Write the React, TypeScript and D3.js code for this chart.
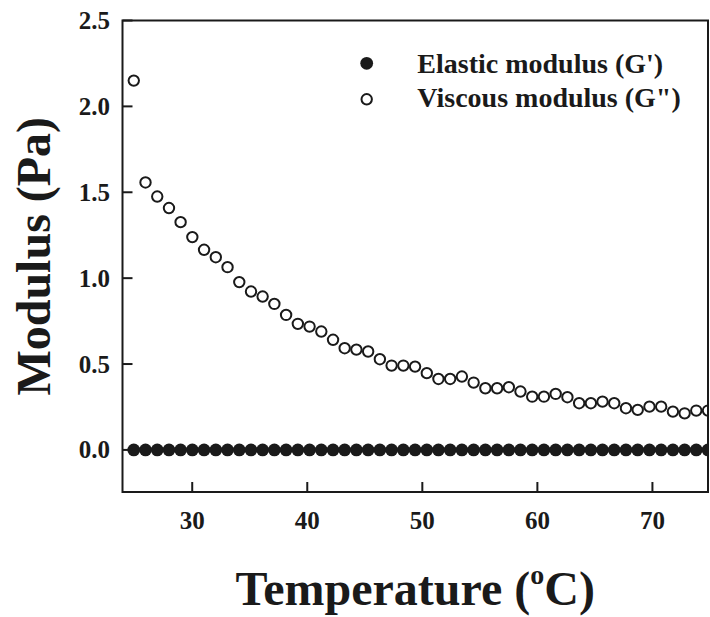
import React from "react";
import * as d3 from "d3";

const temperatures = [
  24.92, 25.94, 26.96, 27.98, 28.99, 30.01, 31.03, 32.05, 33.07, 34.09,
  35.11, 36.12, 37.14, 38.16, 39.18, 40.2, 41.22, 42.24, 43.25, 44.27,
  45.29, 46.31, 47.33, 48.35, 49.37, 50.39, 51.4, 52.42, 53.44, 54.46,
  55.48, 56.5, 57.52, 58.53, 59.55, 60.57, 61.59, 62.61, 63.63, 64.65,
  65.66, 66.68, 67.7, 68.72, 69.74, 70.76, 71.78, 72.8, 73.81, 74.83,
];

const elasticModulus = [
  0, 0, 0, 0, 0, 0, 0, 0, 0, 0,
  0, 0, 0, 0, 0, 0, 0, 0, 0, 0,
  0, 0, 0, 0, 0, 0, 0, 0, 0, 0,
  0, 0, 0, 0, 0, 0, 0, 0, 0, 0,
  0, 0, 0, 0, 0, 0, 0, 0, 0, 0,
];

const viscousModulus = [
  2.15, 1.557, 1.475, 1.408, 1.326, 1.239, 1.165, 1.122, 1.064, 0.977,
  0.922, 0.893, 0.85, 0.786, 0.734, 0.718, 0.689, 0.641, 0.592, 0.584,
  0.573, 0.528, 0.491, 0.491, 0.485, 0.447, 0.413, 0.413, 0.427, 0.392,
  0.359, 0.359, 0.365, 0.34, 0.31, 0.31, 0.326, 0.307, 0.272, 0.272,
  0.281, 0.272, 0.243, 0.233, 0.252, 0.252, 0.223, 0.213, 0.229, 0.229,
];

const xTicks = [30, 40, 50, 60, 70];
const yTicks = [0, 0.5, 1.0, 1.5, 2.0, 2.5];
const legendLabels = ["Elastic modulus (G')", 'Viscous modulus (G")'];

const W = 710;
const H = 617;
const left = 122.5;
const right = 708;
const top = 20.5;
const bottom = 492;
const ink = "#1a1a1a";
const font = "'Liberation Serif', 'Times New Roman', serif";

export default function App() {
  const x = d3.scaleLinear().domain([23.94, 74.83]).range([left, right]);
  const y = d3.scaleLinear().domain([-0.245, 2.5]).range([bottom, top]);
  const fmt = d3.format(".1f");

  return (
    <svg
      width={W}
      height={H}
      style={{ position: "absolute", left: 0, top: 0, background: "#fff" }}
      fontFamily={font}
    >
      <rect x={0} y={0} width={W} height={H} fill="#fff" />
      <defs>
        <clipPath id="plot">
          <rect x={left} y={top} width={right - left} height={bottom - top} />
        </clipPath>
      </defs>

      {/* data */}
      <g clipPath="url(#plot)">
        {temperatures.map((t, i) => (
          <circle key={"e" + i} cx={x(t)} cy={y(elasticModulus[i])} r={6.4} fill={ink} />
        ))}
        {temperatures.map((t, i) => (
          <circle
            key={"v" + i}
            cx={x(t)}
            cy={y(viscousModulus[i])}
            r={5.2}
            fill="#fff"
            stroke={ink}
            strokeWidth={2}
          />
        ))}
      </g>

      {/* frame */}
      <rect
        x={left}
        y={top}
        width={right - left}
        height={bottom - top}
        fill="none"
        stroke={ink}
        strokeWidth={2}
      />

      {/* x ticks */}
      {xTicks.map((t) => (
        <g key={"xt" + t}>
          <line x1={x(t)} x2={x(t)} y1={bottom} y2={bottom - 10} stroke={ink} strokeWidth={2} />
          <text
            x={x(t)}
            y={529}
            textAnchor="middle"
            fontSize={25}
            fontWeight="bold"
            fill={ink}
          >
            {t}
          </text>
        </g>
      ))}

      {/* y ticks */}
      {yTicks.map((t) => (
        <g key={"yt" + t}>
          <line x1={left} x2={left + 10} y1={y(t)} y2={y(t)} stroke={ink} strokeWidth={2} />
          <text
            x={110}
            y={y(t)}
            dy="0.34em"
            textAnchor="end"
            fontSize={25}
            fontWeight="bold"
            fill={ink}
          >
            {fmt(t)}
          </text>
        </g>
      ))}

      {/* axis titles */}
      <text
        x={(left + right) / 2}
        y={605}
        textAnchor="middle"
        fontSize={48}
        fontWeight="bold"
        fill={ink}
      >
        Temperature (
        <tspan fontSize={28} dy={-21}>
          o
        </tspan>
        <tspan dy={21}>C)</tspan>
      </text>
      <text
        transform={`translate(50, ${(top + bottom) / 2}) rotate(-90)`}
        textAnchor="middle"
        fontSize={48}
        fontWeight="bold"
        fill={ink}
      >
        Modulus (Pa)
      </text>

      {/* legend */}
      <circle cx={366.7} cy={63.3} r={6.4} fill={ink} />
      <circle cx={366.7} cy={99.3} r={5.2} fill="#fff" stroke={ink} strokeWidth={2} />
      <text x={417.3} y={72.7} fontSize={28} fontWeight="bold" fill={ink}>
        {legendLabels[0]}
      </text>
      <text x={417.3} y={107.3} fontSize={28} fontWeight="bold" fill={ink}>
        {legendLabels[1]}
      </text>
    </svg>
  );
}
